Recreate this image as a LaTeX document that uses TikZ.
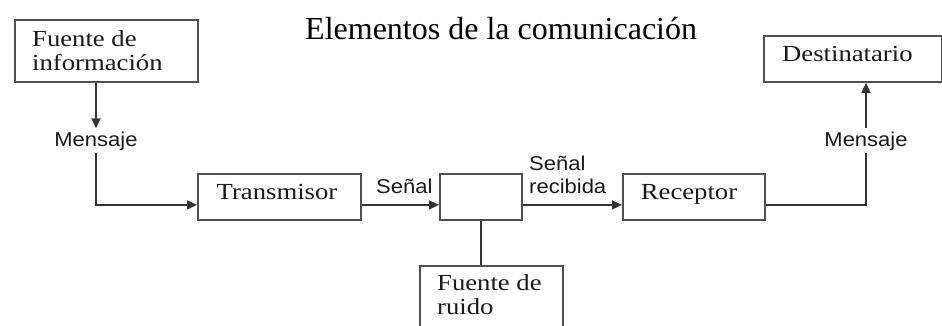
\documentclass[tikz,border=0pt]{standalone}
\usepackage{fontspec}
\setmainfont{Liberation Serif}
\newfontfamily\boxfont[FakeStretch=1.16]{Liberation Serif}
\newfontfamily\lblfont[FakeStretch=1.1]{Liberation Sans}
\usetikzlibrary{arrows.meta}
\definecolor{boxline}{HTML}{505050}
\definecolor{conline}{HTML}{333333}
\definecolor{txt}{HTML}{1A1A1A}
\tikzset{
  blockbox/.style={draw=boxline, line width=1.8pt, fill=white, anchor=north west, inner sep=0pt},
  boxtext/.style={font=\fontsize{23}{24}\selectfont\boxfont, text=txt, inner sep=0pt, align=left},
  lbl/.style={font=\fontsize{20}{23}\selectfont\lblfont, text=txt, inner xsep=2pt, inner ysep=3pt, align=left},
  conn/.style={draw=conline, line width=1.4pt},
  arr/.style={conn, -{Triangle[length=10pt,width=9pt]}},
}
\begin{document}
\begin{tikzpicture}[x=1pt,y=-1pt]
\useasboundingbox (0,0) rectangle (942,325);
\clip (0,0) rectangle (942,325);
\fill[white] (0,0) rectangle (942,325);
% title
\node[font=\fontsize{32}{36}\selectfont, anchor=base west, inner sep=0pt] (title) at (305,39) {Elementos de la comunicación};
% boxes
\node[blockbox, minimum width=183pt, minimum height=62pt] (fuente) at (14,19) {};
\node[blockbox, minimum width=163pt, minimum height=46pt] (trans) at (197,173) {};
\node[blockbox, minimum width=82pt, minimum height=46pt] (mid) at (439,173) {};
\node[blockbox, minimum width=142pt, minimum height=46pt] (rec) at (622,173) {};
\node[blockbox, minimum width=178pt, minimum height=46pt] (dest) at (763,35) {};
\node[blockbox, minimum width=143pt, minimum height=80pt] (ruido) at (419,265) {};
% box texts
\node[boxtext, anchor=base west] (tfuente) at (32,70) {Fuente de\\información};
\node[boxtext, anchor=base] (ttrans) at (277,199) {Transmisor};
\node[boxtext, anchor=base] (trec) at (689,199) {Receptor};
\node[boxtext, anchor=base west] (tdest) at (782,61) {Destinatario};
\node[boxtext, anchor=base west] (truido) at (437,314) {Fuente de\\ruido};
% labels
\node[lbl, anchor=base] (msgL) at (96,146) {Mensaje};
\node[lbl, anchor=base] (msgR) at (866,146) {Mensaje};
\node[lbl, anchor=base west, inner sep=0pt] (senal) at (376,193) {Señal};
\node[lbl, anchor=base west, inner sep=0pt] (senalrec) at (529,193) {Señal\\recibida};
% connectors
\draw[arr] (fuente.south -| msgL.north) -- (msgL.north);
\draw[arr] (msgL.south) |- ([yshift=-8pt]trans.west);
\draw[arr] ([yshift=-8pt]trans.east) -- ([yshift=-8pt]mid.west);
\draw[arr] ([yshift=-8pt]mid.east) -- ([yshift=-8pt]rec.west);
\draw[conn] ([yshift=-8pt]rec.east) -| (msgR.south);
\draw[arr] (msgR.north) -- (dest.south -| msgR.north);
\draw[conn] (mid.south) -- (mid.south |- ruido.north);
\end{tikzpicture}
\end{document}
